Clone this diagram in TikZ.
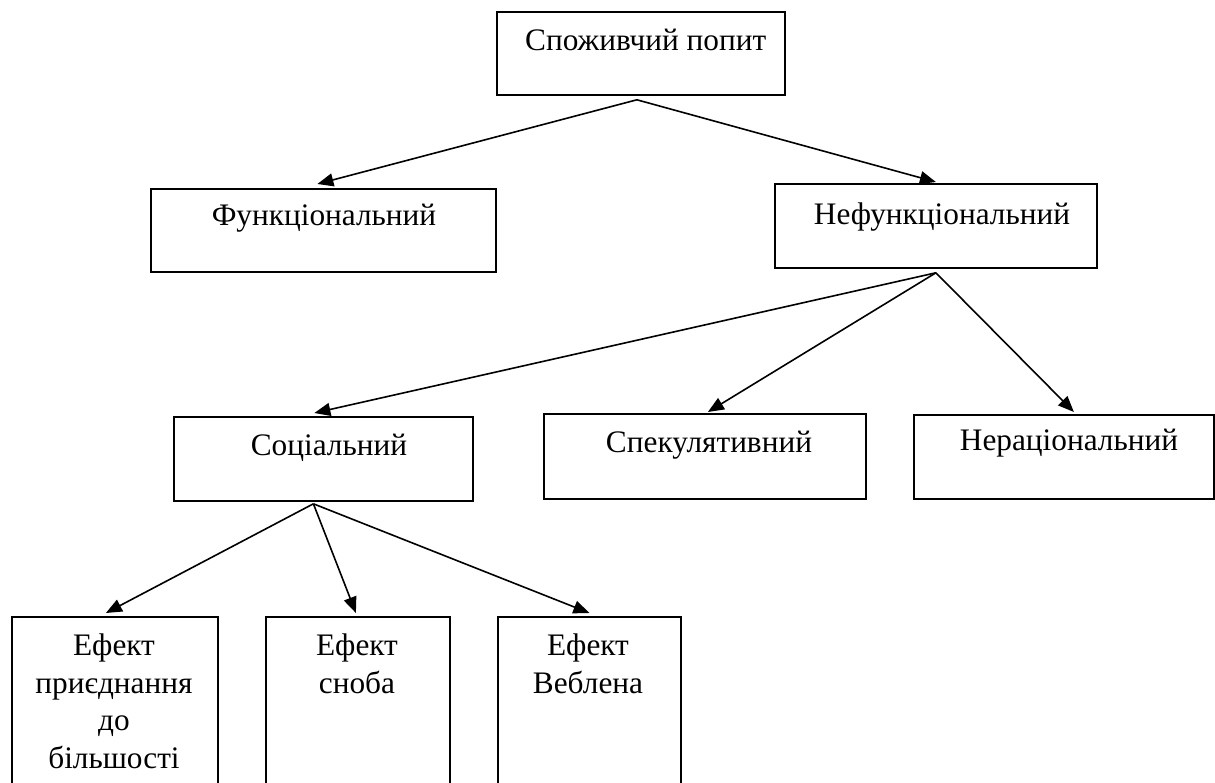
\documentclass[tikz,border=0pt]{standalone}
\usepackage{fontspec}
\setmainfont{Liberation Serif}
\usetikzlibrary{arrows.meta,calc}
\begin{document}
\begin{tikzpicture}[x=1pt,y=-1pt,
  box/.style={draw,line width=1.8pt,inner sep=0pt,anchor=north west},
  txt/.style={inner sep=0pt,font=\fontsize{31.3}{37.5}\selectfont,align=center},
  arr/.style={line width=1.6pt,-{Triangle[length=16pt,width=13pt]}}]
\useasboundingbox (0,0) rectangle (1215,783);
\clip (0,0) rectangle (1215,783);
% boxes
\node[box,minimum width=288,minimum height=83] (top) at (496,11) {};
\node[box,minimum width=345,minimum height=83] (fun) at (150,188) {};
\node[box,minimum width=322,minimum height=84] (nef) at (774,183) {};
\node[box,minimum width=299,minimum height=84] (soc) at (173,416) {};
\node[box,minimum width=322,minimum height=85] (spe) at (543,413) {};
\node[box,minimum width=300,minimum height=84] (ner) at (913,414) {};
\node[box,minimum width=206,minimum height=220] (b1) at (11,616) {};
\node[box,minimum width=184,minimum height=220] (b2) at (265,616) {};
\node[box,minimum width=183,minimum height=220] (b3) at (497,616) {};
% texts
\node[txt,anchor=west] (ttop) at (525,40) {Споживчий попит};
\node[txt] (tfun) at (324,218) {Функціональний};
\node[txt] (tnef) at (942,217) {Нефункціональний};
\node[txt] (tsoc) at (329,448) {Соціальний};
\node[txt] (tspe) at (709,445) {Спекулятивний};
\node[txt] (tner) at (1069,443) {Нераціональний};
\node[txt,anchor=north] (tb1) at (114,634) {Ефект\\приєднання\\до\\більшості};
\node[txt,anchor=north] (tb2) at (357,634) {Ефект\\сноба};
\node[txt,anchor=north] (tb3) at (588,634) {Ефект\\Веблена};
% connector ends
\coordinate (o1) at ($(top.south)+(-4,4)$);
\coordinate (i1) at ($(fun.north)+(-6,-4)$);
\coordinate (i2) at ($(nef.north)+(0,-1)$);
\coordinate (o2) at ($(nef.south)+(0,4)$);
\coordinate (i3) at ($(soc.north)+(-9,-3)$);
\coordinate (i4) at ($(spe.north)+(3,-1)$);
\coordinate (i5) at ($(ner.north)+(10,-2)$);
\coordinate (o3) at ($(soc.south)+(-10,2)$);
\coordinate (i6) at ($(b1.north)+(-9,-3)$);
\coordinate (i7) at ($(b2.north)+(-2,-3)$);
\coordinate (i8) at ($(b3.north)+(0,-3)$);
% arrows
\draw[arr] (o1) -- (i1);
\draw[arr] (o1) -- (i2);
\draw[arr] (o2) -- (i3);
\draw[arr] (o2) -- (i4);
\draw[arr] (o2) -- (i5);
\draw[arr] (o3) -- (i6);
\draw[arr] (o3) -- (i7);
\draw[arr] (o3) -- (i8);
\end{tikzpicture}
\end{document}
